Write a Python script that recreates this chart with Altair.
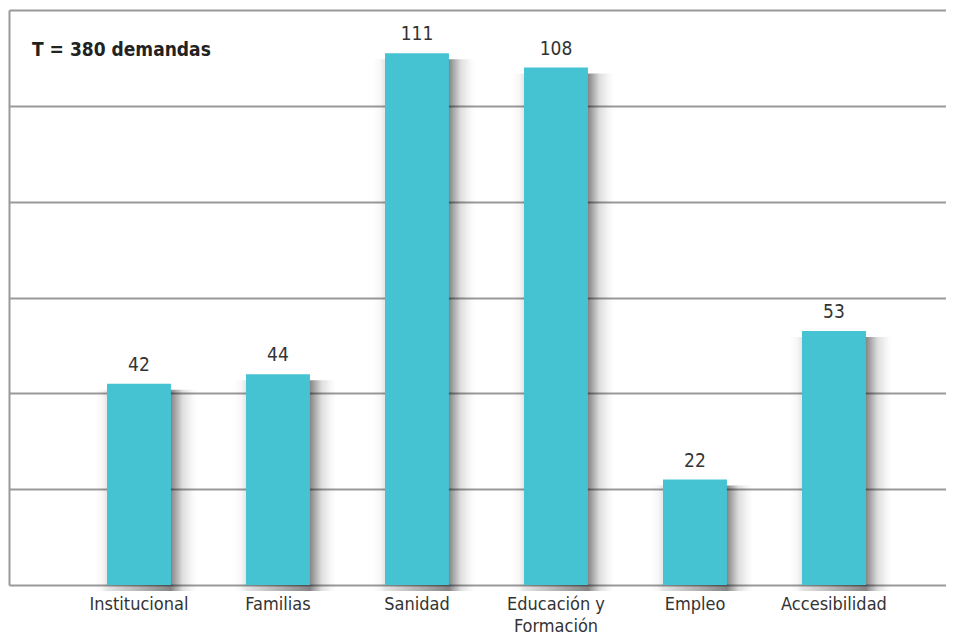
import altair as alt
import pandas as pd

categories = ["Institucional", "Familias", "Sanidad", "Educación y Formación", "Empleo", "Accesibilidad"]
values = [42, 44, 111, 108, 22, 53]
total_label = "T = 380 demandas"
grid_values = [0, 20, 40, 60, 80, 100, 120]

df = pd.DataFrame({"cat": categories, "val": values})

FONT = "'Liberation Sans Narrow', 'Arial Narrow', 'DejaVu Sans Condensed', 'Roboto Condensed', sans-serif"
BAR = "#45C3D3"
GRID = "#999999"

xscale = alt.Scale(paddingInner=0.54, paddingOuter=0.6405, align=0.5504)
x = alt.X(
    "cat:N", sort=None, scale=xscale,
    axis=alt.Axis(
        title=None, labelAngle=0, domain=False, ticks=False,
        labelFont=FONT, labelFontSize=18, labelColor="#333333",
        labelPadding=10, labelLineHeight=22, labelLimit=0,
        labelExpr="datum.label == 'Educación y Formación' ? ['Educación y', 'Formación'] : datum.label",
    ),
)
y = alt.Y(
    "val:Q", scale=alt.Scale(domain=[0, 120], nice=False),
    axis=alt.Axis(
        title=None, labels=False, ticks=False, values=grid_values,
        grid=True, gridColor=GRID, gridWidth=2,
        domain=True, domainColor=GRID, domainWidth=2,
    ),
)

base = alt.Chart(df)

shadow = base.mark_bar(
    width=102, xOffset=7, yOffset=6,
    color=alt.Gradient(
        gradient="linear", x1=0, x2=1, y1=0, y2=0,
        stops=[
            alt.GradientStop(offset=0, color="rgba(0,0,0,0)"),
            alt.GradientStop(offset=0.07, color="rgba(0,0,0,0.03)"),
            alt.GradientStop(offset=0.12, color="rgba(0,0,0,0.1)"),
            alt.GradientStop(offset=0.745, color="rgba(0,0,0,0.48)"),
            alt.GradientStop(offset=0.79, color="rgba(0,0,0,0.34)"),
            alt.GradientStop(offset=0.86, color="rgba(0,0,0,0.13)"),
            alt.GradientStop(offset=0.95, color="rgba(0,0,0,0.03)"),
            alt.GradientStop(offset=1, color="rgba(0,0,0,0)"),
        ],
    ),
).encode(x=x, y=y)

bars = base.mark_bar(color=BAR).encode(x=x, y=y)

labels = base.mark_text(
    dy=-13, baseline="alphabetic", font=FONT, fontSize=19, color="#333333"
).encode(x=x, y=y, text="val:Q")

note = alt.Chart(pd.DataFrame({"t": [total_label]})).mark_text(
    align="left", baseline="alphabetic", font=FONT, fontSize=19,
    fontWeight="bold", color="#222222",
).encode(x=alt.value(23), y=alt.value(46), text="t:N")

chart = alt.layer(shadow, bars, labels, note).properties(
    width=937, height=575,
    padding={"left": 1, "top": 2, "right": 0, "bottom": 50},
    autosize=alt.AutoSizeParams(type="none"),
).configure_view(stroke=None)

chart.save("out.html", embed_options={"renderer": "svg", "actions": False})
